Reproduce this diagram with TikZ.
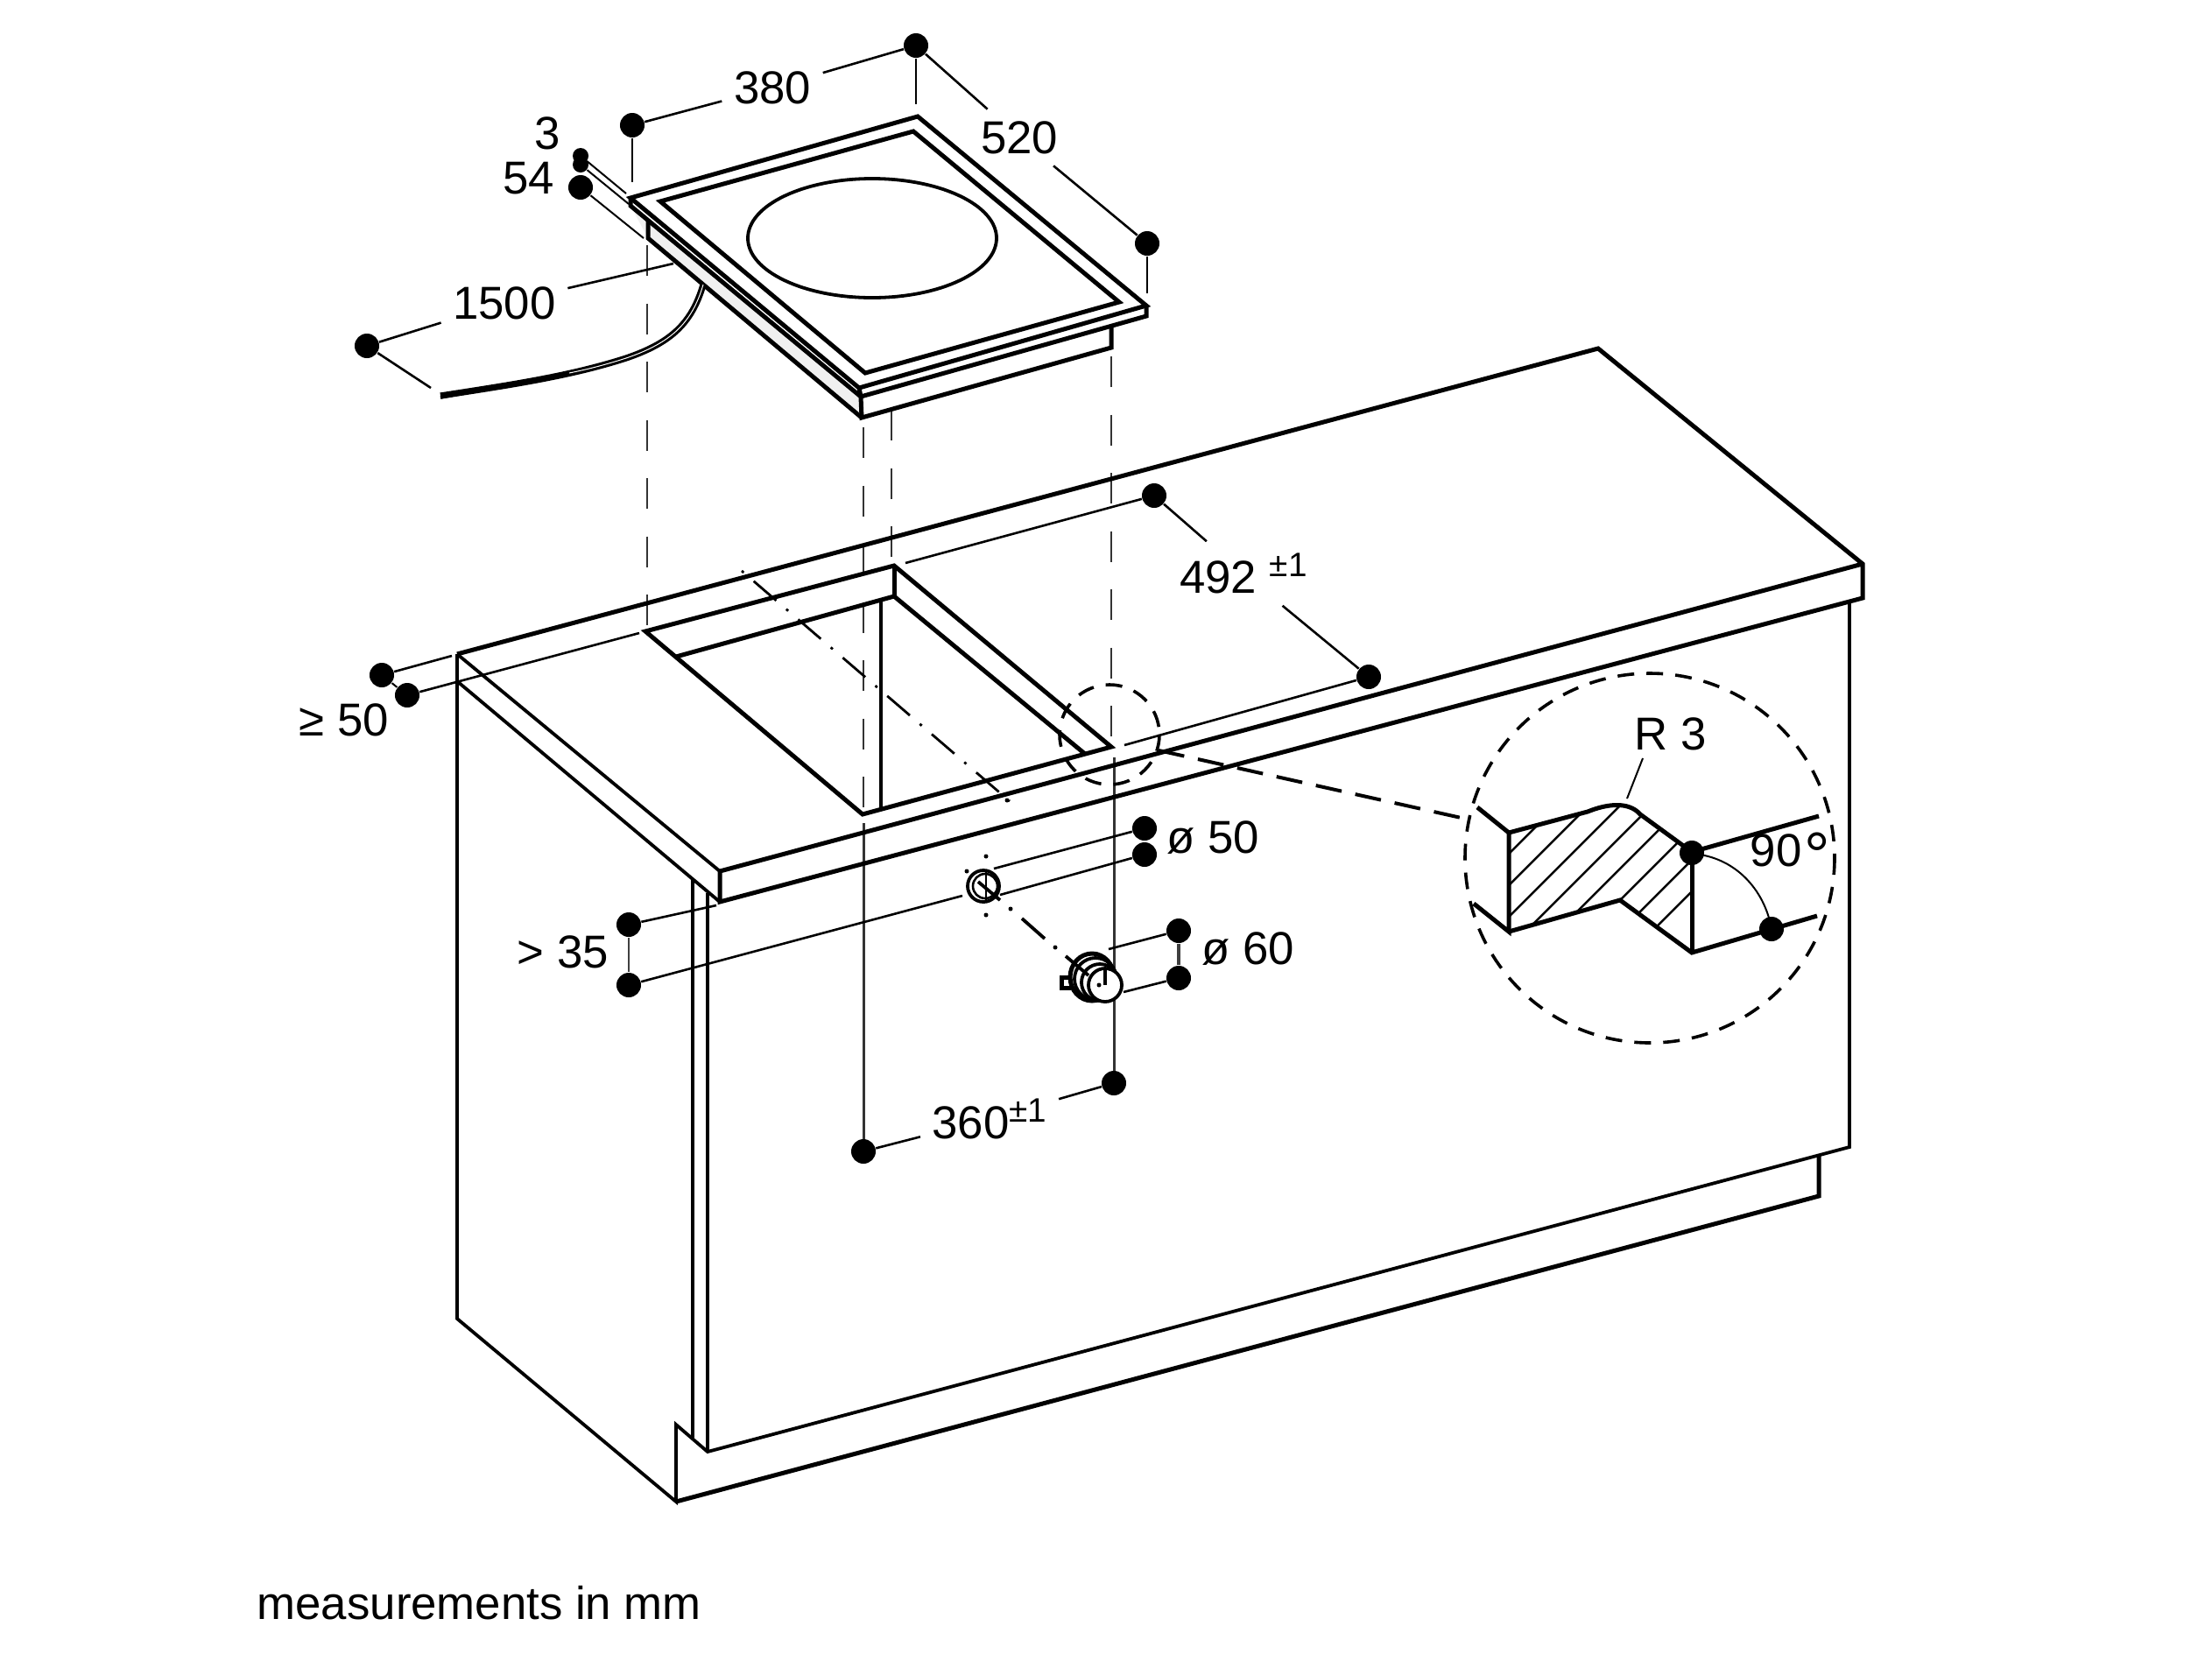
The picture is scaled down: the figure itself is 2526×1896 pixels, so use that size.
\documentclass[tikz,border=0pt]{standalone}
\usepackage{fontspec}
\setmainfont{Liberation Sans}
\usetikzlibrary{positioning, calc}

\newcommand{\tolmark}[1]{\raisebox{5.4pt}{\fontsize{11}{12}\selectfont #1}}

\begin{document}
\begin{tikzpicture}[
            x=0.01cm, y=-0.01cm,
            heavy_line/.style={line width=0.5mm, line join=miter, black},
            medium_line/.style={line width=0.38mm, black},
            leader_line/.style={line width=0.26mm, black},
            thin_line/.style={line width=0.2mm, black},
            hidden_line/.style={line width=0.24mm, black!80, dash pattern=on 3.5mm off 3.15mm},
            solid_projection/.style={line width=0.3mm, black!80},
            center_line/.style={line width=0.28mm, black, dash pattern=on 3.4mm off 1.5mm on 0.3mm off 1.5mm, dash phase=4.9mm},
            detail_circle/.style={line width=0.36mm, black, dash pattern=on 1.9mm off 1.4mm},
            detail_link/.style={line width=0.4mm, black, dash pattern=on 3mm off 1.6mm},
            hatch_line/.style={line width=0.25mm, black},
            dim_dot/.style={circle, fill=black, inner sep=0pt, minimum size=0.28cm},
            small_dot/.style={circle, fill=black, inner sep=0pt, minimum size=0.18cm},
            tiny_dot/.style={circle, fill=black, inner sep=0pt, minimum size=0.05cm},
            dim_label/.style={inner sep=0.13cm, font=\fontsize{15}{18}\selectfont}
        ]
        \useasboundingbox (0,0) rectangle (2526,1896);

        % projection lines
        \draw[hidden_line] (739,280) -- (739,716);
        \draw[hidden_line] (986,488) -- (986,930);
        \draw[hidden_line] (1018,468) -- (1018,640);
        \draw[hidden_line] (1269,407) -- (1269,845);
        \draw[solid_projection] (986,940) -- (986,1315);
        \draw[solid_projection] (1272,865) -- (1272,1237);

        % hob
        \fill[black!6] (720,235) -- (983,453) -- (984,477) -- (740,272) -- cycle;
        \draw[heavy_line] (720,226) -- (1048,133) -- (1309,349) -- (981,443) -- cycle;
        \draw[heavy_line] (1043,150) -- (754,230) -- (988,426) -- (1278,345) -- cycle;
        \draw[medium_line] (996,272) ellipse (142 and 68);
        \draw[heavy_line] (720,226) -- (720,235) -- (983,453) -- (1309,361) -- (1309,349);
        \draw[heavy_line] (981,443) -- (983,453) -- (984,477) -- (1269,397) -- (1269,373);
        \draw[heavy_line] (740,253) -- (740,272) -- (984,477);

        % cable
        \draw[line width=0.72mm, black] (803,325) .. controls (790,370) and (765,392) .. (715,409) .. controls (650,430) and (580,440) .. (503,452);
        \draw[line width=0.1mm, white] (803,325) .. controls (790,370) and (765,392) .. (715,409) .. controls (690,417) and (670,422) .. (650,426);
        \draw[line width=0.35mm, black] (640,429) -- (503,454);

        % counter top
        \draw[heavy_line] (522,747) -- (1825,398) -- (2127,644) -- (2127,683) -- (822,1030) -- (822,995) -- (2127,644);
        \draw[medium_line] (522,747) -- (822,995);
        \draw[medium_line] (522,778) -- (822,1030);

        % cut out
        \draw[heavy_line] (737,721) -- (1021,646) -- (1269,853) -- (985,930) -- cycle;
        \draw[heavy_line] (772,750) -- (1021,681) -- (1239,861);
        \draw[heavy_line] (1021,646) -- (1021,681);
        \draw[medium_line] (1006,685) -- (1006,925);
        \draw[center_line] (847,652) -- (1153,915);

        % cabinet
        \draw[medium_line] (522,747) -- (522,1506) -- (772,1715) -- (772,1627) -- (808,1658) -- (2112,1310) -- (2112,686);
        \draw[heavy_line] (772,1715) -- (2077,1366) -- (2077,1319);
        \draw[medium_line] (791,1005) -- (791,1642);
        \draw[medium_line] (808,1020) -- (808,1658);

        % cable outlet and hole
        \draw[medium_line] (1123,1012) circle (18);
        \draw[leader_line] (1125,1012) circle (14);
        \draw[leader_line] (1126,993) -- (1126,1028);
        \draw[medium_line] (1117,1007) -- (1142,1028);
        \foreach \tx/\ty [count=\ti] in {1126/978, 1104/995, 1126/1045, 1150/914, 1154/1038, 1205/1082}
            \node[tiny_dot] (hole_mark_\ti) at (\tx,\ty) {};
        \draw[medium_line] (1167,1049) -- (1193,1072);

        \draw[heavy_line] (1223,1116) -- (1212,1116) -- (1212,1128) -- (1223,1128);
        \draw[heavy_line] (1247,1116) ellipse (25 and 27);
        \draw[medium_line] (1251,1118) circle (24);
        \draw[medium_line] (1256,1122) circle (21);
        \draw[medium_line, fill=white] (1262,1125) circle (19);
        \draw[medium_line] (1262,1106) -- (1262,1125);
        \node[tiny_dot] (plug_mark) at (1255,1125) {};
        \draw[medium_line] (1217,1092) -- (1243,1114);

        % detail
        \draw[detail_circle] (1884,980) circle (211);
        \draw[detail_link] (1323,857) -- (1682,937);
        \draw[detail_circle] (1267,839) circle (57);
        \begin{scope}
            \clip (1723,951) -- (1813,927) .. controls (1835,918) and (1860,915) .. (1873,930) -- (1932,973) -- (1932,1088) -- (1850,1028) -- (1723,1064) -- cycle;
            \foreach \k in {2698,2734,...,2984}
                \draw[hatch_line] ({\k-1200},1200) -- ({\k-800},800);
        \end{scope}
        \draw[heavy_line] (1687,922) -- (1723,951) -- (1813,927) .. controls (1835,918) and (1860,915) .. (1873,930) -- (1932,973) -- (2077,932);
        \draw[heavy_line] (1683,1032) -- (1723,1064) -- (1723,951);
        \draw[heavy_line] (1723,1064) -- (1850,1028) -- (1932,1088) -- (2075,1046);
        \draw[heavy_line] (1932,973) -- (1932,1088);
        \draw[thin_line] (1932,975) .. controls (1980,978) and (2015,1015) .. (2023,1061);

        % dimensions
        \node[dim_dot] (dot_380_left) at (722,143) {};
        \node[dim_dot] (dot_380_right) at (1046,52) {};
        \node[dim_dot] (dot_520_right) at (1310,278) {};
        \node[small_dot] (dot_3_top) at (663,178) {};
        \node[small_dot] (dot_3_bottom) at (663,188) {};
        \node[dim_dot] (dot_54) at (663,214) {};
        \node[dim_dot] (dot_1500) at (419,395) {};
        \node[dim_dot] (dot_50_top) at (436,771) {};
        \node[dim_dot] (dot_50_bottom) at (465,794) {};
        \node[dim_dot] (dot_492_left) at (1318,566) {};
        \node[dim_dot] (dot_492_right) at (1563,773) {};
        \node[dim_dot] (dot_d50_top) at (1307,946) {};
        \node[dim_dot] (dot_d50_bottom) at (1307,976) {};
        \node[dim_dot] (dot_d60_top) at (1346,1063) {};
        \node[dim_dot] (dot_d60_bottom) at (1346,1117) {};
        \node[dim_dot] (dot_35_top) at (718,1056) {};
        \node[dim_dot] (dot_35_bottom) at (718,1125) {};
        \node[dim_dot] (dot_360_left) at (986,1315) {};
        \node[dim_dot] (dot_360_right) at (1272,1237) {};
        \node[dim_dot] (dot_angle_top) at (1932,974) {};
        \node[dim_dot] (dot_angle_bottom) at (2023,1061) {};

        \node[dim_label] (label_380) at (882,100) {380};
        \node[dim_label] (label_520) at (1164,157) {520};
        \node[dim_label] (label_3) at (625,152) {3};
        \node[dim_label] (label_54) at (604,204) {54};
        \node[dim_label] (label_1500) at (576,346) {1500};
        \node[dim_label] (label_50) at (393,822) {≥ 50};
        \node[dim_label] (label_492) at (1420,655) {492 \tolmark{±1}};
        \node[dim_label] (label_d50) at (1385,957) {ø 50};
        \node[dim_label] (label_d60) at (1425,1084) {ø 60};
        \node[dim_label] (label_35) at (643,1087) {> 35};
        \node[dim_label] (label_360) at (1130,1278) {360\tolmark{±1}};
        \node[dim_label] (label_r3) at (1908,838) {R 3};
        \node[dim_label, anchor=west, inner sep=0pt] (label_90) at (1998,977) {90\hspace{1pt}\raisebox{-3.7pt}{\fontsize{21}{18}\selectfont °}};
        \node[dim_label, anchor=west, inner sep=0pt] (label_units) at (293,1831) {measurements in mm};

        \coordinate (end_380_left) at (722,208);
        \coordinate (end_380_right) at (1046,119);
        \coordinate (end_520_right) at (1310,335);
        \coordinate (end_3_top) at (715,221);
        \coordinate (end_3_bottom) at (718,233);
        \coordinate (end_54) at (735,272);
        \coordinate (end_1500_top) at (769,301);
        \coordinate (end_1500_bottom) at (492,443);
        \coordinate (end_50_top) at (516,749);
        \coordinate (end_50_bottom) at (730,723);
        \coordinate (end_492_left) at (1034,643);
        \coordinate (end_492_right) at (1284,851);
        \coordinate (end_d50_top) at (1135,992);
        \coordinate (end_d50_bottom) at (1142,1022);
        \coordinate (end_d60_top) at (1266,1084);
        \coordinate (end_d60_bottom) at (1283,1133);
        \coordinate (end_35_top) at (818,1034);
        \coordinate (end_35_bottom) at (1099,1023);
        \coordinate (end_r3_top) at (1876,866);
        \coordinate (end_r3_bottom) at (1858,912);

        \draw[leader_line] (dot_380_left) -- (label_380);
        \draw[leader_line] (label_380) -- (dot_380_right);
        \draw[leader_line] (dot_380_left) -- (end_380_left);
        \draw[leader_line] (dot_380_right) -- (end_380_right);
        \draw[leader_line] (dot_380_right) -- (label_520);
        \draw[leader_line] (label_520) -- (dot_520_right);
        \draw[leader_line] (dot_520_right) -- (end_520_right);
        \draw[thin_line] (dot_3_top) -- (end_3_top);
        \draw[thin_line] (dot_3_bottom) -- (end_3_bottom);
        \draw[thin_line] (dot_54) -- (end_54);
        \draw[leader_line] (dot_1500) -- (label_1500);
        \draw[leader_line] (label_1500) -- (end_1500_top);
        \draw[leader_line] (dot_1500) -- (end_1500_bottom);
        \draw[leader_line] (dot_50_top) -- (end_50_top);
        \draw[leader_line] (dot_50_bottom) -- (end_50_bottom);
        \draw[thin_line] (dot_50_top) -- (dot_50_bottom);
        \draw[leader_line] (dot_492_left) -- (end_492_left);
        \draw[leader_line] (dot_492_left) -- (label_492);
        \draw[leader_line] (label_492) -- (dot_492_right);
        \draw[leader_line] (dot_492_right) -- (end_492_right);
        \draw[leader_line] (dot_d50_top) -- (end_d50_top);
        \draw[leader_line] (dot_d50_bottom) -- (end_d50_bottom);
        \draw[leader_line] (dot_d60_top) -- (end_d60_top);
        \draw[leader_line] (dot_d60_bottom) -- (end_d60_bottom);
        \draw[medium_line, black!75] (dot_d60_top) -- (dot_d60_bottom);
        \draw[leader_line] (dot_35_top) -- (end_35_top);
        \draw[leader_line] (dot_35_bottom) -- (end_35_bottom);
        \draw[leader_line, black!75] (dot_35_top) -- (dot_35_bottom);
        \draw[leader_line] (dot_360_left) -- (label_360);
        \draw[leader_line] (label_360) -- (dot_360_right);
        \draw[thin_line] (end_r3_top) -- (end_r3_bottom);
\end{tikzpicture}
\end{document}
